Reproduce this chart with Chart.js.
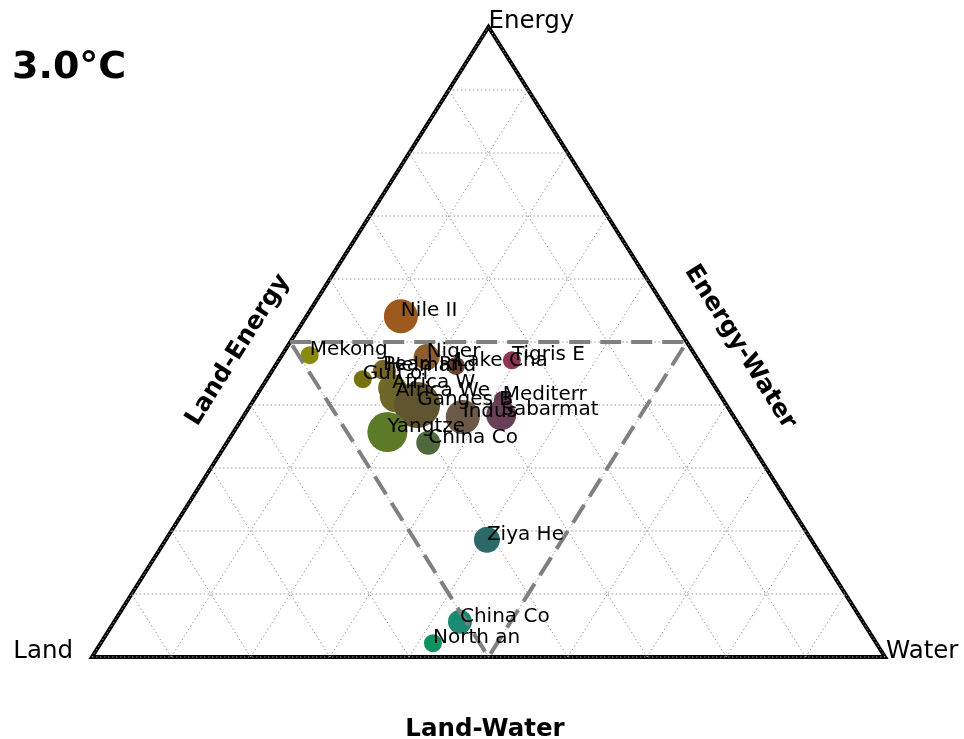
<!DOCTYPE html>
<html>
<head>
<meta charset="utf-8">
<script src="https://cdn.jsdelivr.net/npm/chart.js@4/dist/chart.umd.min.js"></script>
<style>
  html, body { margin: 0; padding: 0; background: #ffffff; }
  #wrap { width: 964px; height: 739px; position: relative; }
</style>
</head>
<body>
<div id="wrap"><canvas id="tern" width="964" height="739"></canvas></div>
<script>
// Basin shares of the three nexus pressures (land, energy, water); each row sums to 1.
const basins = ['Nile II', 'Mekong', 'Niger', 'Lake Cha', 'Tigris E', 'Pearl Ri', 'Helmand',
  'Gulf of', 'Africa W', 'Africa We', 'Ganges B', 'Mediterr', 'Indus', 'Sabarmat',
  'Yangtze', 'China Co', 'Ziya He', 'China Co', 'North an'];
const landShare   = [0.340, 0.486, 0.340, 0.310, 0.235, 0.405, 0.402, 0.438, 0.408, 0.410,
  0.390, 0.278, 0.342, 0.292, 0.449, 0.406, 0.409, 0.508, 0.559];
const energyShare = [0.541, 0.479, 0.476, 0.462, 0.471, 0.456, 0.454, 0.441, 0.427, 0.414,
  0.400, 0.408, 0.381, 0.384, 0.357, 0.340, 0.186, 0.056, 0.022];
const waterShare  = [0.119, 0.035, 0.184, 0.228, 0.294, 0.139, 0.144, 0.121, 0.165, 0.176,
  0.210, 0.314, 0.277, 0.324, 0.194, 0.254, 0.405, 0.436, 0.419];

// Grid fractions along every side of the triangle
const gridFractions = [0, 0.1, 0.2, 0.3, 0.4, 0.5, 0.6, 0.7, 0.8, 0.9];
// Corners of the inner (medial) triangle as [water, energy]
const innerCorners = [[0, 0.5], [0.5, 0.5], [0.5, 0]];

const cornerLabels = { left: 'Land', top: 'Energy', right: 'Water' };
const sideLabels = { left: 'Land-Energy', right: 'Energy-Water', bottom: 'Land-Water' };
const scenarioTitle = '3.0°C';

// Marker styling
const markerRadius = [17, 9, 13, 9, 9, 10, 10, 9, 14, 16, 23, 9, 17, 15, 20, 12, 13, 12, 9];
const markerColor = ['#9c5a1e', '#8b8a0c', '#8e5e2e', '#6c4432', '#8c3452', '#7a6626', '#74642a',
  '#76700f', '#726a24', '#6c6628', '#60552f', '#5e3a4a', '#6a5a47', '#6a4058',
  '#5c7a28', '#4e6a3c', '#2a6a68', '#1a8a72', '#10905c'];

const FONT = '"DejaVu Sans", sans-serif';

// Ternary -> cartesian: x = water + energy/2, y = energy
const points = basins.map((b, i) => ({
  x: waterShare[i] + energyShare[i] / 2,
  y: energyShare[i],
  r: markerRadius[i]
}));

function pix(chart, w, e) {
  return [chart.scales.x.getPixelForValue(w + e / 2), chart.scales.y.getPixelForValue(e)];
}

function line(ctx, a, b) {
  ctx.beginPath();
  ctx.moveTo(a[0], a[1]);
  ctx.lineTo(b[0], b[1]);
  ctx.stroke();
}

const ternaryFrame = {
  id: 'ternaryFrame',
  beforeDatasetsDraw(chart) {
    const ctx = chart.ctx;
    ctx.save();
    // outer boundary
    const L = pix(chart, 0, 0), T = pix(chart, 0, 1), R = pix(chart, 1, 0);
    ctx.strokeStyle = '#000000';
    ctx.lineWidth = 4;
    ctx.beginPath();
    ctx.moveTo(L[0], L[1]); ctx.lineTo(T[0], T[1]); ctx.lineTo(R[0], R[1]); ctx.closePath();
    ctx.stroke();
    // dotted grid
    ctx.strokeStyle = '#999999';
    ctx.lineWidth = 1;
    ctx.setLineDash([1.5, 2.5]);
    gridFractions.forEach(k => {
      line(ctx, pix(chart, 0, k), pix(chart, 1 - k, k));       // constant energy
      line(ctx, pix(chart, k, 0), pix(chart, k, 1 - k));       // constant water
      line(ctx, pix(chart, 1 - k, 0), pix(chart, 0, 1 - k));   // constant land
    });
    ctx.restore();
  },
  afterDatasetsDraw(chart) {
    const ctx = chart.ctx;
    ctx.save();
    // dashed inner triangle
    ctx.strokeStyle = '#808080';
    ctx.lineWidth = 4;
    ctx.setLineDash([21, 10]);
    ctx.beginPath();
    innerCorners.forEach((c, i) => {
      const p = pix(chart, c[0], c[1]);
      if (i === 0) ctx.moveTo(p[0], p[1]); else ctx.lineTo(p[0], p[1]);
    });
    ctx.closePath();
    ctx.stroke();
    ctx.setLineDash([]);

    // basin names
    ctx.fillStyle = '#000000';
    ctx.font = '20px ' + FONT;
    ctx.textAlign = 'left';
    ctx.textBaseline = 'alphabetic';
    points.forEach((p, i) => {
      ctx.fillText(basins[i], chart.scales.x.getPixelForValue(p.x), chart.scales.y.getPixelForValue(p.y));
    });

    // corner labels
    const L = pix(chart, 0, 0), T = pix(chart, 0, 1), R = pix(chart, 1, 0);
    ctx.font = '24.5px ' + FONT;
    ctx.textAlign = 'right';
    ctx.fillText(cornerLabels.left, L[0] - 19, L[1] + 1);
    ctx.textAlign = 'left';
    ctx.fillText(cornerLabels.right, R[0] + 1, R[1] + 1);
    ctx.fillText(cornerLabels.top, T[0], T[1] + 1);

    // side titles
    ctx.font = 'bold 24.5px ' + FONT;
    ctx.textAlign = 'center';
    ctx.textBaseline = 'middle';
    const ang = Math.atan2(L[1] - T[1], T[0] - L[0]);
    ctx.save();
    ctx.translate(238, 350);
    ctx.rotate(-ang);
    ctx.fillText(sideLabels.left, 0, 0);
    ctx.restore();
    ctx.save();
    ctx.translate(740, 347);
    ctx.rotate(ang);
    ctx.fillText(sideLabels.right, 0, 0);
    ctx.restore();
    ctx.textBaseline = 'alphabetic';
    ctx.fillText(sideLabels.bottom, 485, 736);

    // scenario title
    ctx.font = 'bold 38px ' + FONT;
    ctx.textAlign = 'left';
    ctx.fillText(scenarioTitle, 12, 78);
    ctx.restore();
  }
};

new Chart(document.getElementById('tern'), {
  type: 'bubble',
  data: {
    datasets: [{
      data: points,
      backgroundColor: markerColor,
      borderWidth: 0,
      hoverBorderWidth: 0,
      clip: false
    }]
  },
  options: {
    responsive: false,
    animation: false,
    devicePixelRatio: 1,
    layout: { padding: { left: 92, right: 79, top: 27, bottom: 82 } },
    scales: {
      x: { type: 'linear', min: 0, max: 1, display: false },
      y: { type: 'linear', min: 0, max: 1, display: false }
    },
    plugins: { legend: { display: false }, tooltip: { enabled: false } },
    events: []
  },
  plugins: [ternaryFrame]
});
</script>
</body>
</html>
